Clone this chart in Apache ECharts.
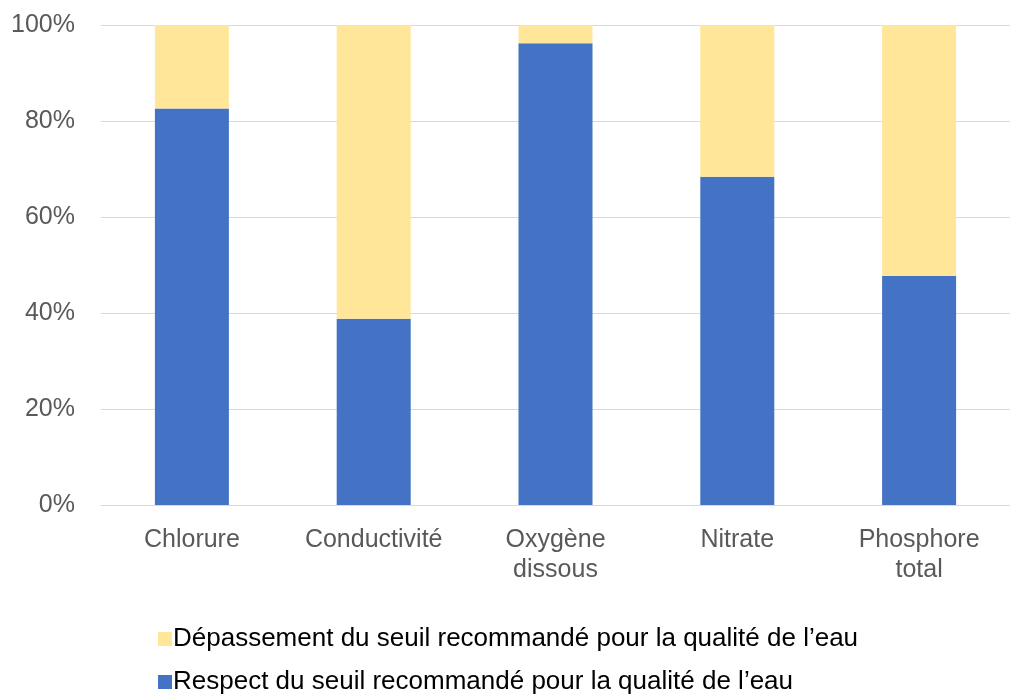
<!DOCTYPE html>
<html><head><meta charset="utf-8">
<script src="https://cdn.jsdelivr.net/npm/echarts@6/dist/echarts.min.js"></script>
<style>html,body{margin:0;padding:0;background:#fff}#c{width:1010px;height:694px}</style>
</head><body><div id="c"></div>
<script>
const categories = ['Chlorure', 'Conductivité', 'Oxygène\ndissous', 'Nitrate', 'Phosphore\ntotal'];
const respect = [82.6, 38.8, 96.2, 68.4, 47.7];
const depassement = [17.4, 61.2, 3.8, 31.6, 52.3];
const yTicks = [0, 20, 40, 60, 80, 100];
const seriesNames = ['Dépassement du seuil recommandé pour la qualité de l’eau', 'Respect du seuil recommandé pour la qualité de l’eau'];

const chart = echarts.init(document.getElementById('c'));
const font = '"Liberation Sans", Arial, sans-serif';
chart.setOption({
  animation: false,
  grid: {left: 101, top: 25, width: 920, height: 480},
  legend: {
    orient: 'vertical', left: 153, top: 621, height: 100, itemGap: 17, itemWidth: 14, itemHeight: 14,
    icon: 'rect',
    data: [seriesNames[0], seriesNames[1]],
    textStyle: {fontFamily: font, fontSize: 26, color: '#000', padding: [0,0,0,-4]}
  },
  xAxis: {
    type: 'category', data: categories,
    axisLine: {lineStyle: {color: '#d9d9d9', width: 1}},
    axisTick: {show: false},
    axisLabel: {fontFamily: font, fontSize: 25, color: '#595959', margin: 20, lineHeight: 30}
  },
  yAxis: {
    type: 'value', min: 0, max: 100, interval: 20,
    axisLabel: {fontFamily: font, fontSize: 25, color: '#595959', margin: 26,
      formatter: v => yTicks.includes(v) ? v + '%' : ''},
    splitLine: {lineStyle: {color: '#d9d9d9', width: 1}},
    axisLine: {show: false}, axisTick: {show: false}
  },
  series: [
    {name: seriesNames[1], type: 'bar', stack: 's', data: respect, barWidth: 74, itemStyle: {color: '#4472C4'}},
    {name: seriesNames[0], type: 'bar', stack: 's', data: depassement, barWidth: 74, itemStyle: {color: '#FFE699'}}
  ]
});
</script></body></html>
